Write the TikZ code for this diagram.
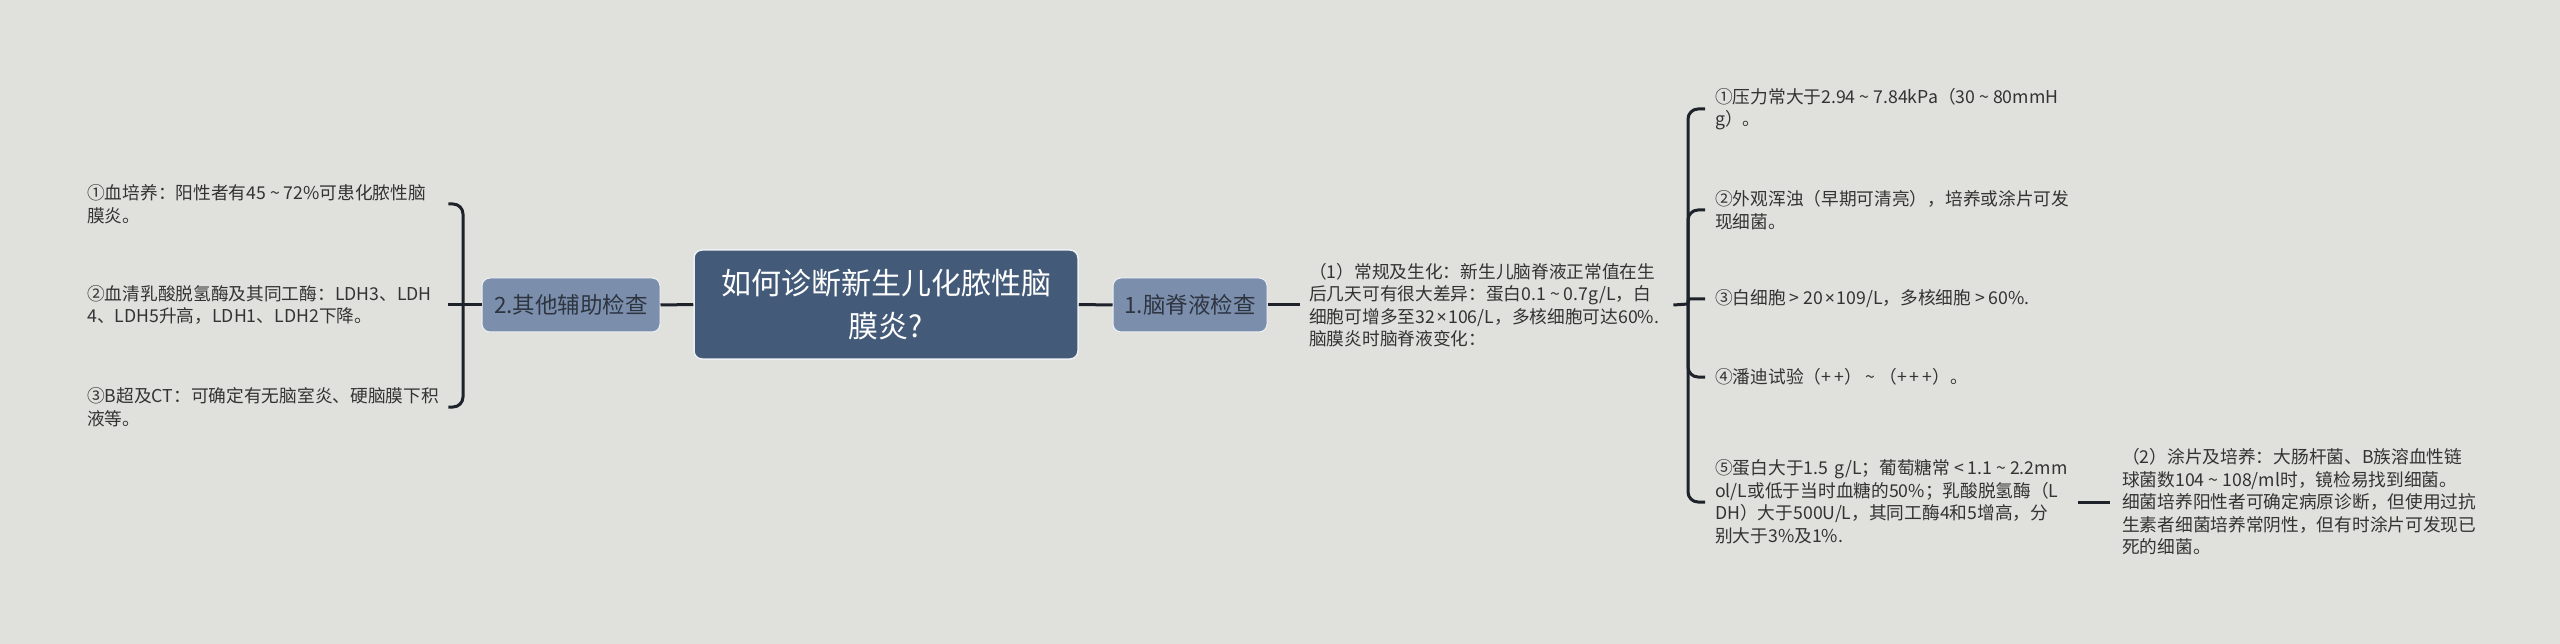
\documentclass[tikz,border=0pt]{standalone}
\usepackage{fontspec}
\setmainfont{Noto Sans CJK SC}
\newfontfamily\latinfont{Noto Sans}
\newcommand{\wv}{\makebox[1em]{\textasciitilde}}
\newcommand{\gtw}{\makebox[1em]{>}}
\newcommand{\ltw}{\makebox[1em]{<}}
\newcommand{\tms}{\makebox[0.75em]{\latinfont ×}}
\definecolor{bg}{HTML}{E0E1DC}
\definecolor{mainc}{HTML}{435A78}
\definecolor{subc}{HTML}{7B8FAD}
\definecolor{edgec}{HTML}{EEF1F4}
\definecolor{subtext}{HTML}{2E3440}
\definecolor{leaftext}{HTML}{333333}
\definecolor{linec}{HTML}{1E222B}
\begin{document}
\begin{tikzpicture}[x=1pt,y=-1pt,
  mainbox/.style={rectangle, rounded corners=8pt, fill=mainc, draw=edgec, line width=1.5pt, text=white,
    minimum width=384pt, minimum height=109pt, align=center, inner sep=0pt,
    font=\fontsize{30}{43}\selectfont},
  subbox/.style={rectangle, rounded corners=8pt, fill=subc, draw=edgec, line width=1pt, text=subtext,
    minimum height=54pt, inner sep=0pt, font=\fontsize{22.5}{27}\selectfont},
  leaf/.style={anchor=west, align=left, text=leaftext, inner ysep=0pt,
    font=\fontsize{17.7}{22.5}\selectfont},
  conn/.style={draw=linec, line width=3pt}]
\useasboundingbox[fill=bg] (0,0) rectangle (2560,644);

% main nodes
\node[mainbox] (c) at (886,304.5) {如何诊断新生儿化脓性脑\\膜炎?};
\node[subbox, minimum width=154pt] (n1) at (1190,305) {1.脑脊液检查};
\node[subbox, minimum width=178pt] (n2) at (571,305) {2.其他辅助检查};

% left leaves
\node[leaf, text width=350pt, inner xsep=11pt] (l1) at (76,204) {①血培养：阳性者有45\wv72\%可患化脓性脑\\膜炎。};
\node[leaf, text width=350pt, inner xsep=11pt] (l2) at (76,305) {②血清乳酸脱氢酶及其同工酶：LDH3、LDH\\4、LDH5升高，LDH1、LDH2下降。};
\node[leaf, text width=350pt, inner xsep=11pt] (l3) at (76,407) {③B超及CT：可确定有无脑室炎、硬脑膜下积\\液等。};

% right side
\node[leaf, text width=355pt, inner xsep=9pt] (p1) at (1300,305) {（1）常规及生化：新生儿脑脊液正常值在生\\后几天可有很大差异：蛋白0.1\wv0.7g/L，白\\细胞可增多至32\tms106/L，多核细胞可达60\%.\\脑膜炎时脑脊液变化：};

\node[leaf, text width=353pt, inner xsep=10pt] (r1) at (1705,109) {①压力常大于2.94\wv7.84kPa（30\wv80mmH\\g）。};
\node[leaf, text width=353pt, inner xsep=10pt] (r2) at (1705,210) {②外观浑浊（早期可清亮），培养或涂片可发\\现细菌。};
\node[leaf, text width=353pt, inner xsep=10pt] (r3) at (1705,299) {③白细胞\gtw20\tms109/L，多核细胞\gtw60\%.};
\node[leaf, text width=353pt, inner xsep=10pt] (r4) at (1705,377) {④潘迪试验（+\,+）\wv（+\,+\,+）。};
\node[leaf, text width=353pt, inner xsep=10pt] (r5) at (1705,502) {⑤蛋白大于1.5 g/L；葡萄糖常\ltw1.1\wv2.2mm\\ol/L或低于当时血糖的50\%；乳酸脱氢酶（L\\DH）大于500U/L，其同工酶4和5增高，分\\别大于3\%及1\%.};

\node[leaf, text width=360pt, inner xsep=12pt] (p2) at (2110,502) {（2）涂片及培养：大肠杆菌、B族溶血性链\\球菌数104\wv108/ml时，镜检易找到细菌。\\细菌培养阳性者可确定病原诊断，但使用过抗\\生素者细菌培养常阴性，但有时涂片可发现已\\死的细菌。};

% junctions
\coordinate (lj) at (463,305);
\coordinate (rj) at (1688,304);

% connectors
\draw[conn] (c.west) -- (n2.east);
\draw[conn] (c.east) -- (n1.west);
\draw[conn] (n2.west) -- (l2.east);
\draw[conn, rounded corners=10pt] (lj) |- (l1.east);
\draw[conn, rounded corners=10pt] (lj) |- (l3.east);
\draw[conn] (n1.east) -- (p1.west);
\draw[conn] (p1.east) -- (rj);
\draw[conn, rounded corners=10pt] (rj) |- (r1.west);
\draw[conn, rounded corners=10pt] (rj) |- (r2.west);
\draw[conn, rounded corners=2pt] (rj) |- (r3.west);
\draw[conn, rounded corners=10pt] (rj) |- (r4.west);
\draw[conn, rounded corners=10pt] (rj) |- (r5.west);
\draw[conn] (r5.east) -- (p2.west);
\end{tikzpicture}
\end{document}
